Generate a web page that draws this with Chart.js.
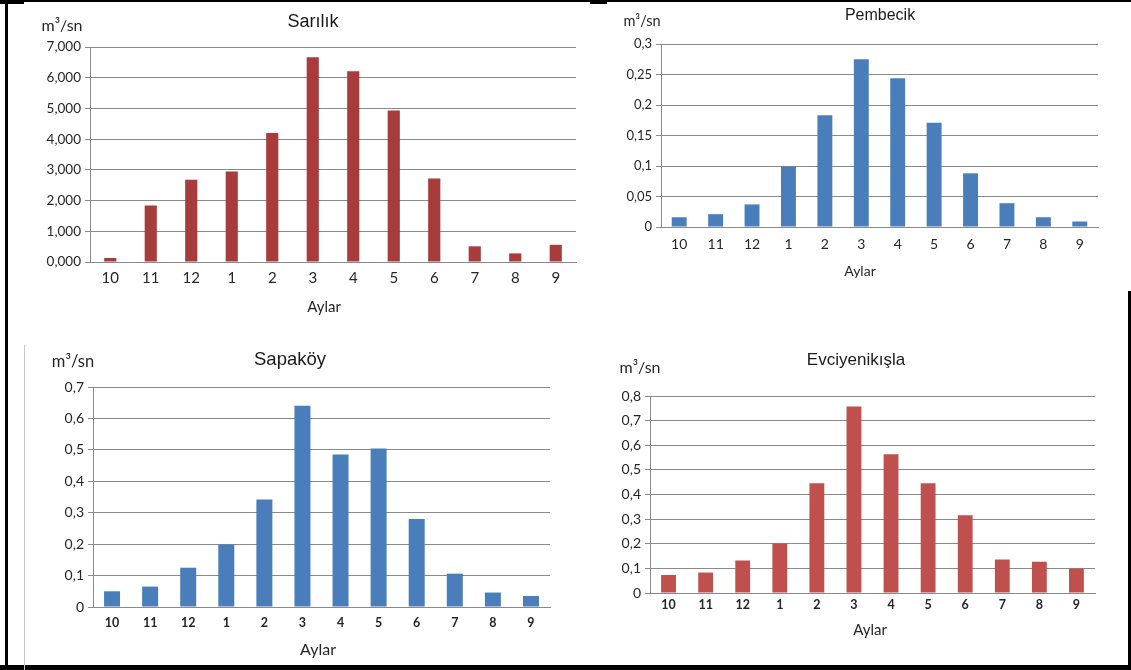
<!DOCTYPE html>
<html>
<head>
<meta charset="utf-8">
<title>Aylık ortalama akımlar</title>
<script src="https://cdn.jsdelivr.net/npm/chart.js@4.4.0/dist/chart.umd.min.js"></script>
<style>
  html, body { margin: 0; padding: 0; background: #fff; }
  #page { position: relative; width: 1131px; height: 670px; overflow: hidden; background: #fff; }
  #page canvas { position: absolute; }
  .rule { position: absolute; background: #000; }
  .thin { position: absolute; background: #c8c8c8; }
</style>
</head>
<body>
<div id="page">
  <canvas id="cSarilik"></canvas>
  <canvas id="cPembecik"></canvas>
  <canvas id="cSapakoy"></canvas>
  <canvas id="cEvci"></canvas>

  <!-- page frame -->
  <div class="rule" style="left:0;top:0;width:1131px;height:2px"></div>
  <div class="rule" style="left:0;top:0;width:24px;height:4px"></div>
  <div class="rule" style="left:590px;top:0;width:17px;height:4px"></div>
  <div class="rule" style="left:5px;top:0;width:3px;height:670px"></div>
  <div class="rule" style="left:0;top:665px;width:1131px;height:5px"></div>
  <div class="rule" style="left:1128px;top:291px;width:3px;height:379px"></div>
  <div class="thin" style="left:24px;top:345px;width:1px;height:325px"></div>
</div>

<script>
// Months of the water year (October → September)
const months = ['10', '11', '12', '1', '2', '3', '4', '5', '6', '7', '8', '9'];

// Mean monthly discharge, m³/sn
const sarilikFlow  = [0.13, 1.84, 2.68, 2.95, 4.20, 6.67, 6.21, 4.93, 2.72, 0.51, 0.28, 0.56];
const pembecikFlow = [0.016, 0.021, 0.037, 0.099, 0.183, 0.275, 0.244, 0.171, 0.088, 0.039, 0.016, 0.009];
const sapakoyFlow  = [0.050, 0.065, 0.125, 0.199, 0.342, 0.640, 0.485, 0.504, 0.280, 0.106, 0.046, 0.035];
const evciFlow     = [0.073, 0.083, 0.132, 0.201, 0.446, 0.757, 0.563, 0.446, 0.316, 0.136, 0.127, 0.099];

// Station names and labels
const stationNames = ['Sarılık', 'Pembecik', 'Sapaköy', 'Evciyenikışla'];
const unitLabel = 'm³/sn';
const xAxisLabel = 'Aylar';

// Value axis extents
const yMaxima = [7, 0.3, 0.7, 0.8];
const ySteps  = [1, 0.05, 0.1, 0.1];
const yDecimals = [3, null, null, null];

const TICK_FONT = 'Lato, "Liberation Sans", Arial, sans-serif';
const TITLE_FONT = '"Liberation Sans", Arial, sans-serif';
const GRID = '#8a8a8a';
const INK = '#262626';

function formatTick(v, decimals) {
  const s = decimals != null ? v.toFixed(decimals) : String(Number(v.toFixed(3)));
  return s.replace('.', ',');
}

// Draws the station title, the unit caption and the month axis caption
const captions = {
  id: 'captions',
  afterDraw(chart, args, o) {
    const ctx = chart.ctx;
    ctx.save();
    ctx.textAlign = 'center';
    ctx.textBaseline = 'middle';
    ctx.fillStyle = '#1a1a1a';
    ctx.font = o.titleSize + 'px ' + TITLE_FONT;
    ctx.fillText(o.title, o.titleAt[0] - o.origin[0], o.titleAt[1] - o.origin[1]);
    ctx.fillStyle = INK;
    ctx.font = o.unitSize + 'px ' + TICK_FONT;
    ctx.fillText(unitLabel, o.unitAt[0] - o.origin[0], o.unitAt[1] - o.origin[1]);
    ctx.font = o.axisSize + 'px ' + TICK_FONT;
    ctx.fillText(xAxisLabel, o.axisAt[0] - o.origin[0], o.axisAt[1] - o.origin[1]);
    ctx.restore();
  }
};

function buildChart(canvasId, idx, values, color, look) {
  const p = look.plot;
  const left = Math.round(p.l) - 85;
  const top = Math.round(p.t) - 50;
  const width = Math.round(p.r - left) + 14;
  const height = Math.round(p.b - top) + 62;
  const cv = document.getElementById(canvasId);
  cv.width = width; cv.height = height;
  cv.style.left = left + 'px'; cv.style.top = top + 'px';
  cv.style.width = width + 'px'; cv.style.height = height + 'px';

  const yW = p.l - left;
  const xH = height - (p.b - top);

  return new Chart(cv, {
    type: 'bar',
    data: {
      labels: months,
      datasets: [{
        data: values,
        backgroundColor: color,
        borderWidth: 0,
        categoryPercentage: 1,
        barPercentage: look.barPct
      }]
    },
    options: {
      responsive: false,
      animation: false,
      devicePixelRatio: 1,
      layout: { padding: { top: p.t - top, right: width - (p.r - left), left: 0, bottom: 0 } },
      plugins: {
        legend: { display: false },
        tooltip: { enabled: false },
        captions: {
          origin: [left, top],
          title: stationNames[idx],
          titleAt: look.titleAt, titleSize: look.titleSize,
          unitAt: look.unitAt, unitSize: look.unitSize,
          axisAt: look.axisAt, axisSize: look.axisSize
        }
      },
      scales: {
        x: {
          grid: { display: false, drawTicks: false },
          border: { display: true, color: GRID, width: 1 },
          ticks: {
            color: INK,
            font: { family: TICK_FONT, size: look.xFont, weight: look.xWeight },
            padding: look.xPad,
            maxRotation: 0,
            autoSkip: false
          },
          afterFit(s) { s.height = xH; }
        },
        y: {
          min: 0,
          max: yMaxima[idx],
          grid: { color: GRID, lineWidth: 1, drawTicks: true, tickLength: 5, tickColor: GRID },
          border: { display: true, color: GRID, width: 1 },
          ticks: {
            stepSize: ySteps[idx],
            color: INK,
            font: { family: TICK_FONT, size: look.yFont },
            padding: 4,
            callback: v => formatTick(v, yDecimals[idx])
          },
          afterFit(s) { s.width = yW; }
        }
      }
    },
    plugins: [captions]
  });
}

buildChart('cSarilik', 0, sarilikFlow, '#A83B3B', {
  plot: { l: 90, r: 576, t: 47, b: 262 }, barPct: 0.30,
  titleAt: [313, 22], titleSize: 18, unitAt: [62, 26], unitSize: 16,
  axisAt: [324, 307], axisSize: 15, xFont: 15, xWeight: 'normal', xPad: 7, yFont: 13.5
});
buildChart('cPembecik', 1, pembecikFlow, '#4A7EBB', {
  plot: { l: 661, r: 1098, t: 44, b: 227 }, barPct: 0.41,
  titleAt: [880, 16], titleSize: 16, unitAt: [642, 21], unitSize: 14.5,
  axisAt: [860, 271], axisSize: 14, xFont: 14, xWeight: 'normal', xPad: 9, yFont: 13
});
buildChart('cSapakoy', 2, sapakoyFlow, '#4A7EBB', {
  plot: { l: 93, r: 550, t: 387, b: 607 }, barPct: 0.42,
  titleAt: [290, 360], titleSize: 18.5, unitAt: [73, 362], unitSize: 16.5,
  axisAt: [318, 650], axisSize: 16, xFont: 12.5, xWeight: 'bold', xPad: 8, yFont: 14
});
buildChart('cEvci', 3, evciFlow, '#C0504D', {
  plot: { l: 650, r: 1095, t: 396, b: 593 }, barPct: 0.40,
  titleAt: [856, 360], titleSize: 17, unitAt: [640, 368], unitSize: 16,
  axisAt: [870, 630], axisSize: 15, xFont: 12.5, xWeight: 'bold', xPad: 4, yFont: 14
});
</script>
</body>
</html>
